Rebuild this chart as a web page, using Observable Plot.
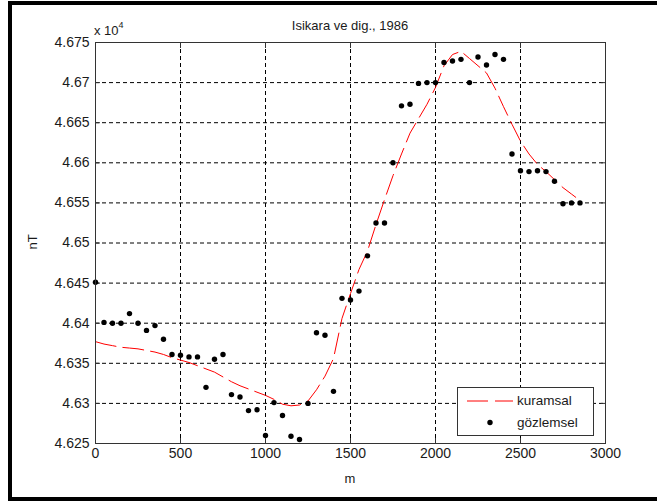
<!DOCTYPE html>
<html>
<head>
<meta charset="utf-8">
<script src="https://cdn.jsdelivr.net/npm/d3@7"></script>
<script src="https://cdn.jsdelivr.net/npm/@observablehq/plot@0.6"></script>
<style>
  html, body { margin: 0; padding: 0; background: #fff; }
  body { width: 657px; height: 503px; overflow: hidden; position: relative;
         font-family: "Liberation Sans", Arial, sans-serif; color: #1a1a1a; }
  #frame { position: absolute; left: 8px; top: 1px; width: 700px; height: 500px;
           border: 4px solid #000; box-sizing: border-box; pointer-events: none; }
  #chart { position: absolute; left: 0; top: 0; }
  .lbl { position: absolute; font-size: 13px; white-space: nowrap; line-height: 1; color: #1a1a1a; }
  #title { left: 350px; top: 19px; transform: translateX(-50%); }
  #mult { left: 94px; top: 24px; }
  #mult sup { font-size: 9px; position: relative; top: -3px; vertical-align: top; }
  #xlab { left: 350px; top: 472px; transform: translateX(-50%); }
  #ylab { left: 32px; top: 242px; transform: translate(-50%, -50%) rotate(-90deg); }
  #legend { position: absolute; left: 457px; top: 387px; width: 137px; height: 49px;
            box-sizing: border-box; border: 1px solid #333; background: #fff; }
  #legend svg { position: absolute; left: 0; top: 0; }
  #legend .t { position: absolute; left: 59px; font-size: 13.5px; line-height: 1; color: #1a1a1a; }
</style>
</head>
<body>
<div id="chart"></div>
<div class="lbl" id="title">Isikara ve dig., 1986</div>
<div class="lbl" id="mult">x 10<sup>4</sup></div>
<div class="lbl" id="xlab">m</div>
<div class="lbl" id="ylab">nT</div>
<div id="legend"></div>
<div id="frame"></div>
<script>
// ---- data (values in nT x 10^4) ----
const obsX = [0, 50, 100, 150, 200, 250, 300, 350, 400, 450,
              500, 550, 600, 650, 700, 750, 800, 850, 900, 950,
              1000, 1050, 1100, 1150, 1200, 1250, 1300, 1350, 1400, 1450,
              1500, 1550, 1600, 1650, 1700, 1750, 1800, 1850, 1900, 1950,
              2000, 2050, 2100, 2150, 2200, 2250, 2300, 2350, 2400, 2450,
              2500, 2550, 2600, 2650, 2700, 2750, 2800, 2850];
const obsY = [4.6451, 4.6401, 4.6400, 4.6400, 4.6412, 4.6400, 4.6391, 4.6397, 4.6380, 4.6361,
              4.6360, 4.6358, 4.6358, 4.6320, 4.6355, 4.6361, 4.6311, 4.6308, 4.6291, 4.6292,
              4.6260, 4.6301, 4.6285, 4.6259, 4.6255, 4.6300, 4.6388, 4.6385, 4.6315, 4.6431,
              4.6429, 4.6440, 4.6484, 4.6525, 4.6525, 4.6600, 4.6671, 4.6673, 4.6699, 4.6700,
              4.6700, 4.6725, 4.6727, 4.6729, 4.6700, 4.6732, 4.6722, 4.6735, 4.6729, 4.6611,
              4.6590, 4.6589, 4.6590, 4.6589, 4.6577, 4.6549, 4.6550, 4.6550];

const modX = [0, 50, 100, 150, 200, 250, 300, 350, 400, 450,
              500, 550, 600, 650, 700, 750, 800, 850, 900, 950,
              1000, 1050, 1100, 1150, 1200, 1250, 1300, 1350, 1400, 1450,
              1500, 1550, 1600, 1650, 1700, 1750, 1800, 1850, 1900, 1950,
              2000, 2050, 2100, 2150, 2200, 2250, 2300, 2350, 2400, 2450,
              2500, 2550, 2600, 2650, 2700, 2750, 2800, 2825];
const modY = [4.6377, 4.6374, 4.6372, 4.6370, 4.6369, 4.6368, 4.6366, 4.6364, 4.6361, 4.6357,
              4.6354, 4.6351, 4.6347, 4.6343, 4.6339, 4.6333, 4.6327, 4.6322, 4.6318, 4.6314,
              4.6310, 4.6305, 4.6299, 4.6297, 4.6298, 4.6303, 4.6317, 4.6334, 4.6356, 4.6406,
              4.6437, 4.6467, 4.6490, 4.6523, 4.6554, 4.6584, 4.6611, 4.6637, 4.6655, 4.6673,
              4.6694, 4.6721, 4.6735, 4.6739, 4.6730, 4.6721, 4.6712, 4.6693, 4.6670, 4.6648,
              4.6627, 4.6611, 4.6598, 4.6589, 4.6579, 4.6569, 4.6561, 4.6557];

const xTicks = [0, 500, 1000, 1500, 2000, 2500, 3000];
const xTickLabels = ["0", "500", "1000", "1500", "2000", "2500", "3000"];
const yTicks = [4.625, 4.63, 4.635, 4.64, 4.645, 4.65, 4.655, 4.66, 4.665, 4.67, 4.675];
const yTickLabels = ["4.625", "4.63", "4.635", "4.64", "4.645", "4.65", "4.655", "4.66", "4.665", "4.67", "4.675"];

const seriesNames = ["kuramsal", "gözlemsel"];

// ---- tables ----
const obs = obsX.map((x, i) => ({x, y: obsY[i]}));
const mod = modX.map((x, i) => ({x, y: modY[i]}));
const xLab = new Map(xTicks.map((t, i) => [t, xTickLabels[i]]));
const yLab = new Map(yTicks.map((t, i) => [t, yTickLabels[i]]));
const blank = () => "";
const grid = {stroke: "#000", strokeOpacity: 1, strokeWidth: 1, strokeDasharray: "4,3"};

const chart = Plot.plot({
  width: 657,
  height: 503,
  marginLeft: 95,
  marginRight: 52,
  marginTop: 42,
  marginBottom: 60,
  style: {fontFamily: "'Liberation Sans', Arial, sans-serif", fontSize: "14px", color: "#1a1a1a", background: "transparent"},
  x: {domain: [0, 3000]},
  y: {domain: [4.625, 4.675]},
  marks: [
    Plot.gridX(xTicks.slice(1, -1), grid),
    Plot.gridY(yTicks.slice(1, -1), grid),
    Plot.axisX(xTicks, {anchor: "bottom", tickSize: 0, tickPadding: 5, tickFormat: d => xLab.get(d), label: null}),
    Plot.axisX(xTicks, {anchor: "bottom", tickSize: -5, tickFormat: blank, label: null, stroke: "#333"}),
    Plot.axisX(xTicks, {anchor: "top", tickSize: -5, tickFormat: blank, label: null, stroke: "#333"}),
    Plot.axisY(yTicks, {anchor: "left", tickSize: 0, tickPadding: 6, tickFormat: d => yLab.get(d), label: null}),
    Plot.axisY(yTicks, {anchor: "left", tickSize: -5, tickFormat: blank, label: null, stroke: "#333"}),
    Plot.axisY(yTicks, {anchor: "right", tickSize: -5, tickFormat: blank, label: null, stroke: "#333"}),
    Plot.line(mod, {x: "x", y: "y", stroke: "#ff0000", strokeWidth: 1, strokeDasharray: "21,7"}),
    Plot.dot(obs, {x: "x", y: "y", r: 2.7, fill: "#000", stroke: "none"}),
    Plot.frame({stroke: "#333", strokeWidth: 1})
  ]
});
document.getElementById("chart").appendChild(chart);

// ---- legend ----
const lg = document.getElementById("legend");
lg.innerHTML =
  `<svg width="137" height="49">
     <line x1="9" x2="55" y1="13" y2="13" stroke="#ff0000" stroke-width="1" stroke-dasharray="21,7"/>
     <circle cx="32" cy="34.5" r="2.7" fill="#000"/>
   </svg>
   <div class="t" style="top:6px">${seriesNames[0]}</div>
   <div class="t" style="top:28px">${seriesNames[1]}</div>`;
</script>
</body>
</html>
